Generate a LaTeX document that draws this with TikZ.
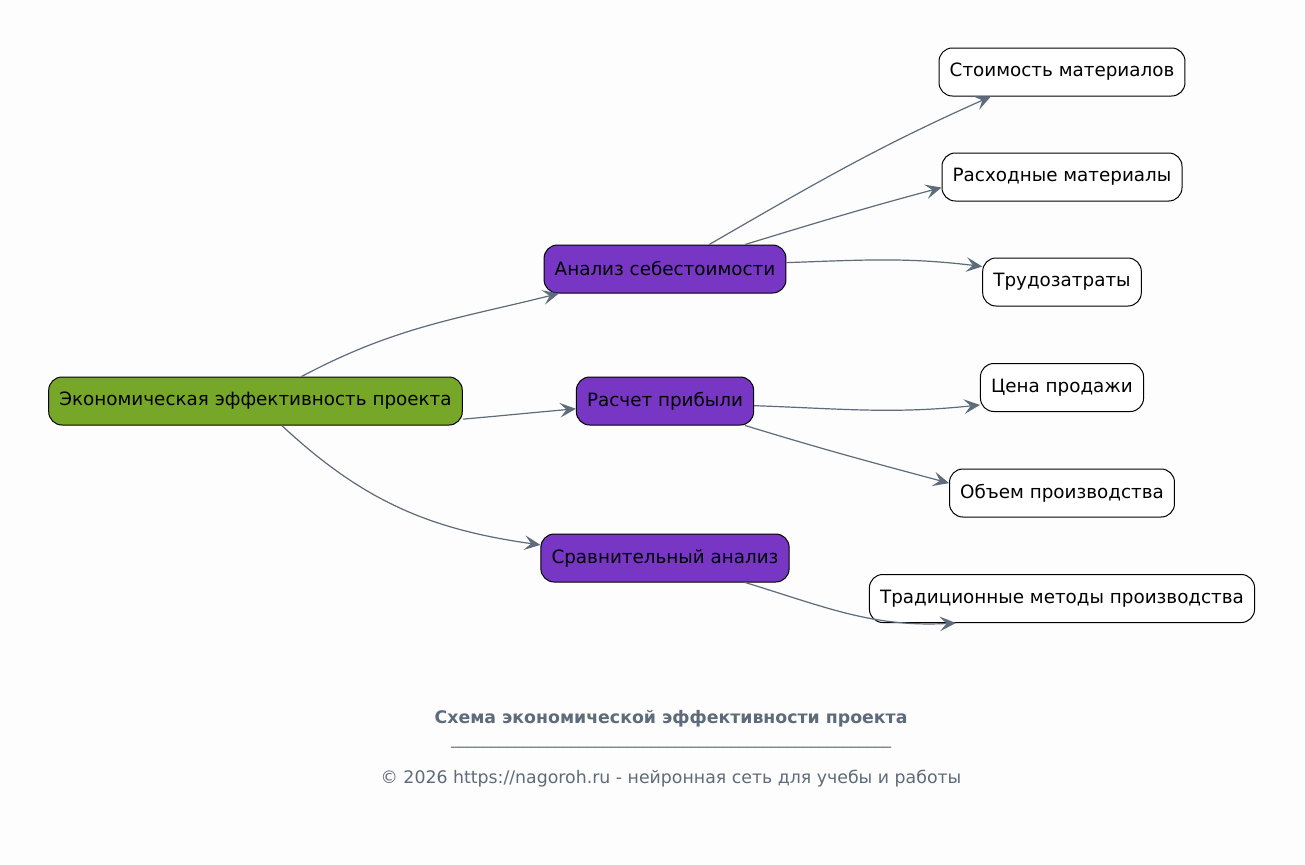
\documentclass[tikz,border=0pt]{standalone}
\usepackage{fontspec}
\setmainfont{DejaVu Sans}
\usetikzlibrary{arrows.meta,positioning}

\definecolor{rootgreen}{RGB}{118,167,40}
\definecolor{midpurple}{RGB}{119,54,196}
\definecolor{edgegray}{RGB}{93,107,122}
\definecolor{pagebg}{RGB}{253,253,253}

\tikzset{
  box/.style={draw=black, line width=0.75pt, rounded corners=10pt,
    minimum height=36pt, inner xsep=8pt, font=\fontsize{13.75pt}{17pt}\selectfont},
  rootbox/.style={box, fill=rootgreen},
  midbox/.style={box, fill=midpurple},
  leafbox/.style={box, fill=white},
  link/.style={draw=edgegray, line width=0.9pt,
    -{Stealth[length=12pt,width=11pt,inset=5pt]}},
  foot/.style={text=edgegray, inner sep=0pt, font=\fontsize{13pt}{15pt}\selectfont},
}

\begin{document}
\begin{tikzpicture}[x=0.75pt,y=0.75pt]

\fill[pagebg] (0,0) rectangle (1305,-864);
\useasboundingbox (0,0) rectangle (1305,-864);


\node[rootbox] (econ) at (255.5,-401) {Экономическая эффективность проекта};

\node[midbox] (cost) at (665,-269) {Анализ себестоимости};
\node[midbox] (profit) at (665,-401) {Расчет прибыли};
\node[midbox] (compare) at (665,-558) {Сравнительный анализ};

\node[leafbox] (matcost) at (1062,-72) {Стоимость материалов};
\node[leafbox] (consum) at (1062,-177) {Расходные материалы};
\node[leafbox] (labor) at (1062,-282) {Трудозатраты};
\node[leafbox] (price) at (1062,-387.5) {Цена продажи};
\node[leafbox] (volume) at (1062,-493) {Объем производства};
\node[leafbox] (tradmeth) at (1062,-598.5) {Традиционные методы производства};


\draw[link] (econ.28) to[out=28,in=194] (cost.193);
\draw[link] (econ.-5) to[out=5,in=185] (profit.185);
\draw[link] (econ.-43) to[out=-43,in=172] (compare.174);


\draw[link] (cost.29) to[out=30,in=204] (matcost.199);
\draw[link] (cost.17) to[out=17,in=195] (consum.185);
\draw[link] (cost.3) to[out=2,in=173] (labor.169);


\draw[link] (profit.-3) to[out=-2,in=186] (price.192);
\draw[link] (profit.-17) to[out=-17,in=165] (volume.175);


\draw[link] (compare.-17) to[out=-17,in=183] (tradmeth.193);


% footer
\node[foot, font=\fontsize{13pt}{15pt}\selectfont\bfseries] (title) at (671,-719) {Схема экономической эффективности проекта};
\node[foot, font=\fontsize{12pt}{14pt}\selectfont] (rule) at (671,-746) {\_\_\_\_\_\_\_\_\_\_\_\_\_\_\_\_\_\_\_\_\_\_\_\_\_\_\_\_\_\_\_\_\_\_\_\_\_\_\_\_\_\_\_\_\_\_\_\_\_\_\_\_\_\_\_};
\node[foot] (copy) at (671,-779) {© 2026 https://nagoroh.ru - нейронная сеть для учебы и работы};

\end{tikzpicture}
\end{document}
